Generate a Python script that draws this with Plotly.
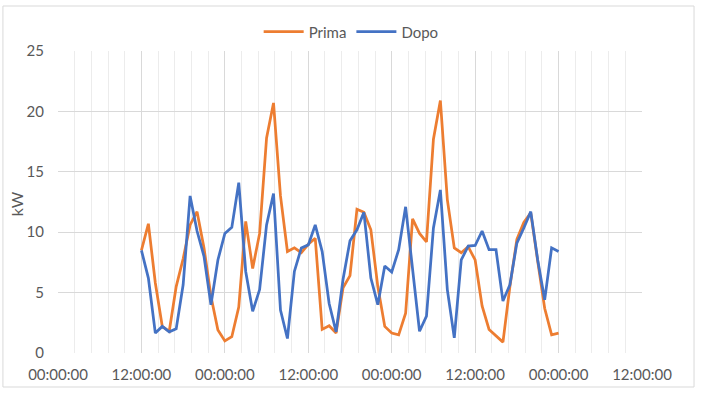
import plotly.graph_objects as go
import pandas as pd

start = "2021-01-01 12:00"
n_points = 61
times = pd.date_range(start=start, periods=n_points, freq="h")

prima = [8.5, 10.7, 5.8, 2.2, 1.8, 5.5, 7.8, 10.6, 11.7, 8.7,
         4.7, 1.9, 1.0, 1.35, 3.8, 10.9, 7.0, 9.9, 17.8, 20.7,
         13.0, 8.4, 8.7, 8.3, 9.0, 9.5, 1.95, 2.25, 1.65, 5.4,
         6.4, 11.9, 11.65, 10.2, 5.5, 2.2, 1.65, 1.5, 3.3, 11.1,
         9.9, 9.2, 17.7, 20.9, 12.7, 8.7, 8.3, 8.8, 7.7, 3.9,
         1.95, 1.4, 0.9, 5.5, 9.4, 10.8, 11.6, 7.6, 3.7, 1.5, 1.65]

dopo = [8.5, 6.2, 1.65, 2.2, 1.75, 2.0, 5.65, 13.0, 10.1, 8.0,
        4.0, 7.7, 9.9, 10.4, 14.1, 6.75, 3.45, 5.25, 10.6, 13.2,
        3.55, 1.2, 6.75, 8.7, 8.95, 10.6, 8.4, 4.1, 1.75, 6.1,
        9.3, 10.2, 11.65, 6.2, 4.0, 7.2, 6.7, 8.55, 12.1, 6.75,
        1.8, 3.05, 10.35, 13.5, 5.25, 1.25, 7.7, 8.85, 8.9, 10.1,
        8.55, 8.55, 4.3, 5.65, 9.1, 10.35, 11.7, 7.7, 4.4, 8.7, 8.4]

series_names = ["Prima", "Dopo"]
y_title = "kW"
x_range = ["2021-01-01 00:00", "2021-01-04 12:00"]
y_ticks = [0, 5, 10, 15, 20, 25]

font_family = "Lato, 'Open Sans', sans-serif"
text_color = "#595959"

fig = go.Figure()
fig.add_trace(go.Scatter(x=times, y=prima, mode="lines", name=series_names[0],
                         line=dict(color="#ED7D31", width=2.75)))
fig.add_trace(go.Scatter(x=times, y=dopo, mode="lines", name=series_names[1],
                         line=dict(color="#4472C4", width=2.75)))

fig.update_layout(
    width=702, height=397,
    margin=dict(l=58.3, r=60.3, t=51.3, b=43.7, autoexpand=False),
    paper_bgcolor="white", plot_bgcolor="white",
    font=dict(family=font_family, color=text_color, size=15),
    showlegend=True,
    legend=dict(orientation="h", x=0.502, xanchor="center", y=1.063, yanchor="middle",
                font=dict(size=15, color=text_color), itemwidth=40,
                bgcolor="rgba(0,0,0,0)"),
    xaxis=dict(
        type="date", range=x_range, automargin=False,
        tick0="2021-01-01 00:00", dtick=43200000,
        tickformat="%H:%M:%S",
        showgrid=True, gridcolor="#d9d9d9", gridwidth=1,
        minor=dict(dtick=8640000, showgrid=True, gridcolor="#ececec", gridwidth=1),
        showline=False, zeroline=False,
        ticks="", ticklabelstandoff=11,
        tickfont=dict(size=15, color=text_color),
    ),
    yaxis=dict(
        range=[0, 25], tickvals=y_ticks, automargin=False,
        showgrid=True, gridcolor="#d9d9d9", gridwidth=1,
        zeroline=False, showline=False, ticks="",
        ticklabelstandoff=13,
        tickfont=dict(size=15, color=text_color),
    ),
    annotations=[dict(text=y_title, textangle=-90, xref="paper", yref="paper",
                      x=-0.0708, y=0.495, xanchor="center", yanchor="middle",
                      showarrow=False, font=dict(size=16, color=text_color))],
    shapes=[dict(type="rect", xref="paper", yref="paper",
                 x0=-0.0943, x1=1.0891, y0=-0.1126, y1=1.1490,
                 line=dict(color="#d9d9d9", width=1), fillcolor="rgba(0,0,0,0)",
                 layer="below")],
)

fig.write_html("out.html", config={"displayModeBar": False},
               post_script="document.body.style.margin='0';document.body.style.padding='0';")
